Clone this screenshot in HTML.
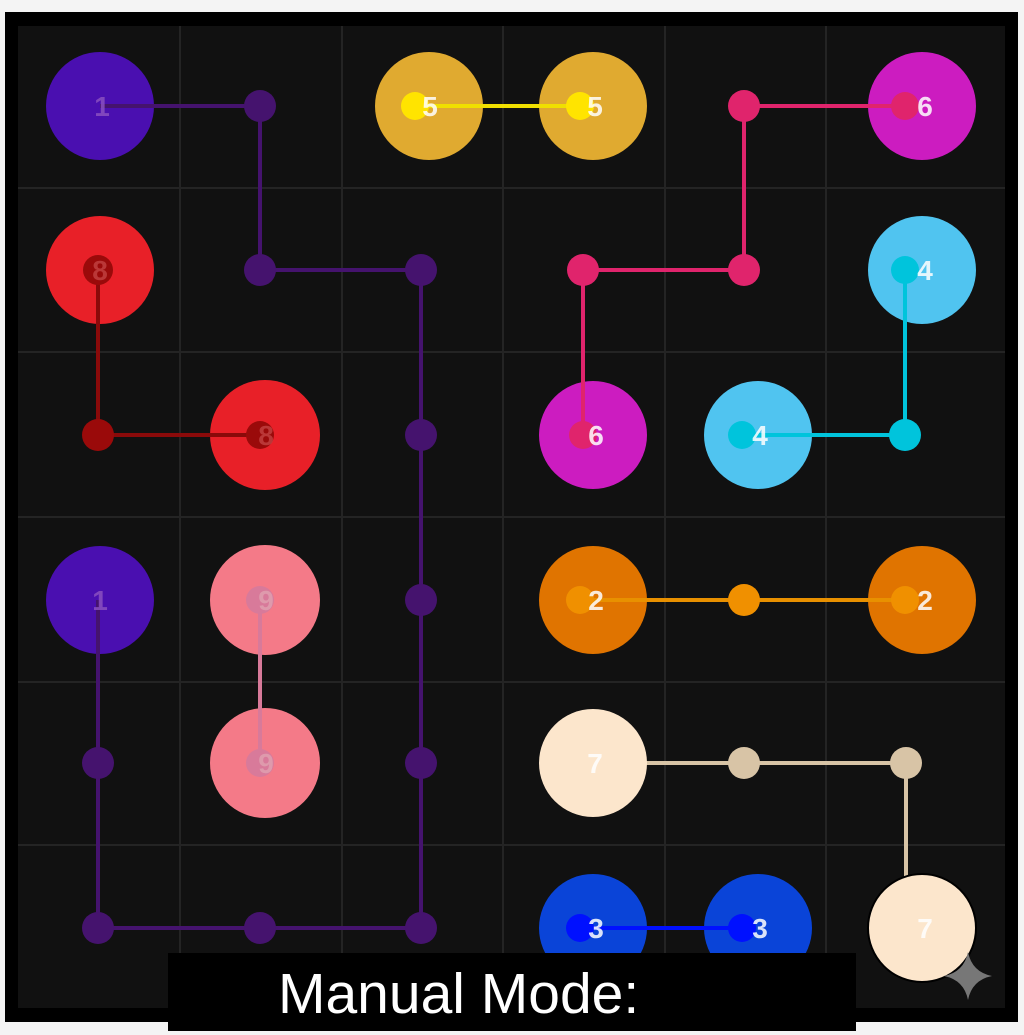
<!DOCTYPE html>
<html><head><style>
body{margin:0;background:#f4f4f4;width:1024px;height:1031px;overflow:hidden;position:relative;font-family:"Liberation Sans",sans-serif}
svg{position:absolute;left:0;top:0}
.cap{position:absolute;left:168px;top:953px;width:688px;height:78px;background:#000;color:#fff;font-size:57px;line-height:82px;box-sizing:border-box;padding-left:110px}
</style></head><body>
<svg width="1024" height="1031" font-family="Liberation Sans, sans-serif" font-weight="bold" font-size="28" text-anchor="middle">
<rect x="5" y="12" width="1013" height="1010" fill="#000"/>
<rect x="18" y="26" width="987" height="982" fill="#111"/>
<g stroke="#242424" stroke-width="2">
<line x1="180" y1="26" x2="180" y2="1008"/><line x1="342" y1="26" x2="342" y2="1008"/><line x1="503" y1="26" x2="503" y2="1008"/><line x1="665" y1="26" x2="665" y2="1008"/><line x1="826" y1="26" x2="826" y2="1008"/>
<line x1="18" y1="188" x2="1005" y2="188"/><line x1="18" y1="352" x2="1005" y2="352"/><line x1="18" y1="517" x2="1005" y2="517"/><line x1="18" y1="682" x2="1005" y2="682"/><line x1="18" y1="845" x2="1005" y2="845"/>
</g>
<polyline points="593,763 906,763 906,928" fill="none" stroke-width="4" stroke="#d8c4a6"/>
<g>
<circle cx="100" cy="106" r="54" fill="#4a0fb0"/>
<circle cx="429" cy="106" r="54" fill="#e0aa30"/>
<circle cx="593" cy="106" r="54" fill="#e0aa30"/>
<circle cx="922" cy="106" r="54" fill="#cc1cc0"/>
<circle cx="100" cy="270" r="54" fill="#e82028"/>
<circle cx="922" cy="270" r="54" fill="#50c4f0"/>
<circle cx="265" cy="435" r="55" fill="#e82028"/>
<circle cx="593" cy="435" r="54" fill="#cc1cc0"/>
<circle cx="758" cy="435" r="54" fill="#50c4f0"/>
<circle cx="100" cy="600" r="54" fill="#4a0fb0"/>
<circle cx="265" cy="600" r="55" fill="#f47a88"/>
<circle cx="593" cy="600" r="54" fill="#e07400"/>
<circle cx="922" cy="600" r="54" fill="#e07400"/>
<circle cx="265" cy="763" r="55" fill="#f47a88"/>
<circle cx="593" cy="763" r="54" fill="#fce6cc"/>
<circle cx="593" cy="928" r="54" fill="#0a44d8"/>
<circle cx="758" cy="928" r="54" fill="#0a44d8"/>
<circle cx="922" cy="928" r="54" fill="#fce6cc" stroke="#000" stroke-width="2"/>
</g>
<g fill="none" stroke-width="4">
<polyline points="100,106 260,106 260,270 421,270 421,928 98,928 98,600" stroke="#45136e"/>
<polyline points="415,106 580,106" stroke="#f0e000"/>
<polyline points="905,106 744,106 744,270 583,270 583,435" stroke="#e0246c"/>
<polyline points="905,270 905,435 742,435" stroke="#00c4dc"/>
<polyline points="98,270 98,435 260,435" stroke="#8a0a0a"/>
<polyline points="580,600 905,600" stroke="#e89000"/>
<polyline points="580,928 742,928" stroke="#0010ff"/>
<polyline points="260,600 260,763" stroke="#d87a9a"/>
</g>
<g fill="#45136e">
<circle cx="260" cy="106" r="16"/><circle cx="260" cy="270" r="16"/><circle cx="421" cy="270" r="16"/><circle cx="421" cy="435" r="16"/><circle cx="421" cy="600" r="16"/><circle cx="421" cy="763" r="16"/><circle cx="421" cy="928" r="16"/><circle cx="260" cy="928" r="16"/><circle cx="98" cy="928" r="16"/><circle cx="98" cy="763" r="16"/>
</g>
<circle cx="415" cy="106" r="14" fill="#ffe400"/><circle cx="580" cy="106" r="14" fill="#ffe400"/>
<g fill="#e0246c"><circle cx="905" cy="106" r="14"/><circle cx="744" cy="106" r="16"/><circle cx="744" cy="270" r="16"/><circle cx="583" cy="270" r="16"/><circle cx="583" cy="435" r="14"/></g>
<g fill="#00c4dc"><circle cx="905" cy="270" r="14"/><circle cx="905" cy="435" r="16"/><circle cx="742" cy="435" r="14"/></g>
<g fill="#9a0a0a"><circle cx="98" cy="270" r="15"/><circle cx="98" cy="435" r="16"/><circle cx="260" cy="435" r="14"/></g>
<g fill="#f09000"><circle cx="580" cy="600" r="14"/><circle cx="744" cy="600" r="16"/><circle cx="905" cy="600" r="14"/></g>
<g fill="#d8c4a6"><circle cx="744" cy="763" r="16"/><circle cx="906" cy="763" r="16"/></g>
<g fill="#0010ff"><circle cx="580" cy="928" r="14"/><circle cx="742" cy="928" r="14"/></g>
<g fill="#d87a9a"><circle cx="260" cy="600" r="14"/><circle cx="260" cy="763" r="14"/></g>
<g fill="#fff" opacity="0.85">
<text x="102" y="116" fill="#8a50c0">1</text>
<text x="430" y="116">5</text><text x="595" y="116">5</text><text x="925" y="116">6</text>
<text x="100" y="280" fill="#c04040">8</text><text x="925" y="280">4</text>
<text x="266" y="445" fill="#c04040">8</text><text x="596" y="445">6</text><text x="760" y="445">4</text>
<text x="100" y="610" fill="#8a50c0">1</text><text x="266" y="610" fill="#e0a0b0">9</text><text x="596" y="610">2</text><text x="925" y="610">2</text>
<text x="266" y="773" fill="#e0a0b0">9</text><text x="595" y="773">7</text>
<text x="596" y="938">3</text><text x="760" y="938">3</text><text x="925" y="938">7</text>
</g>
<path d="M968 952 Q972 972 992 976 Q972 980 968 1000 Q964 980 944 976 Q964 972 968 952Z" fill="#777"/>
</svg>
<div class="cap">Manual Mode:</div>
</body></html>
